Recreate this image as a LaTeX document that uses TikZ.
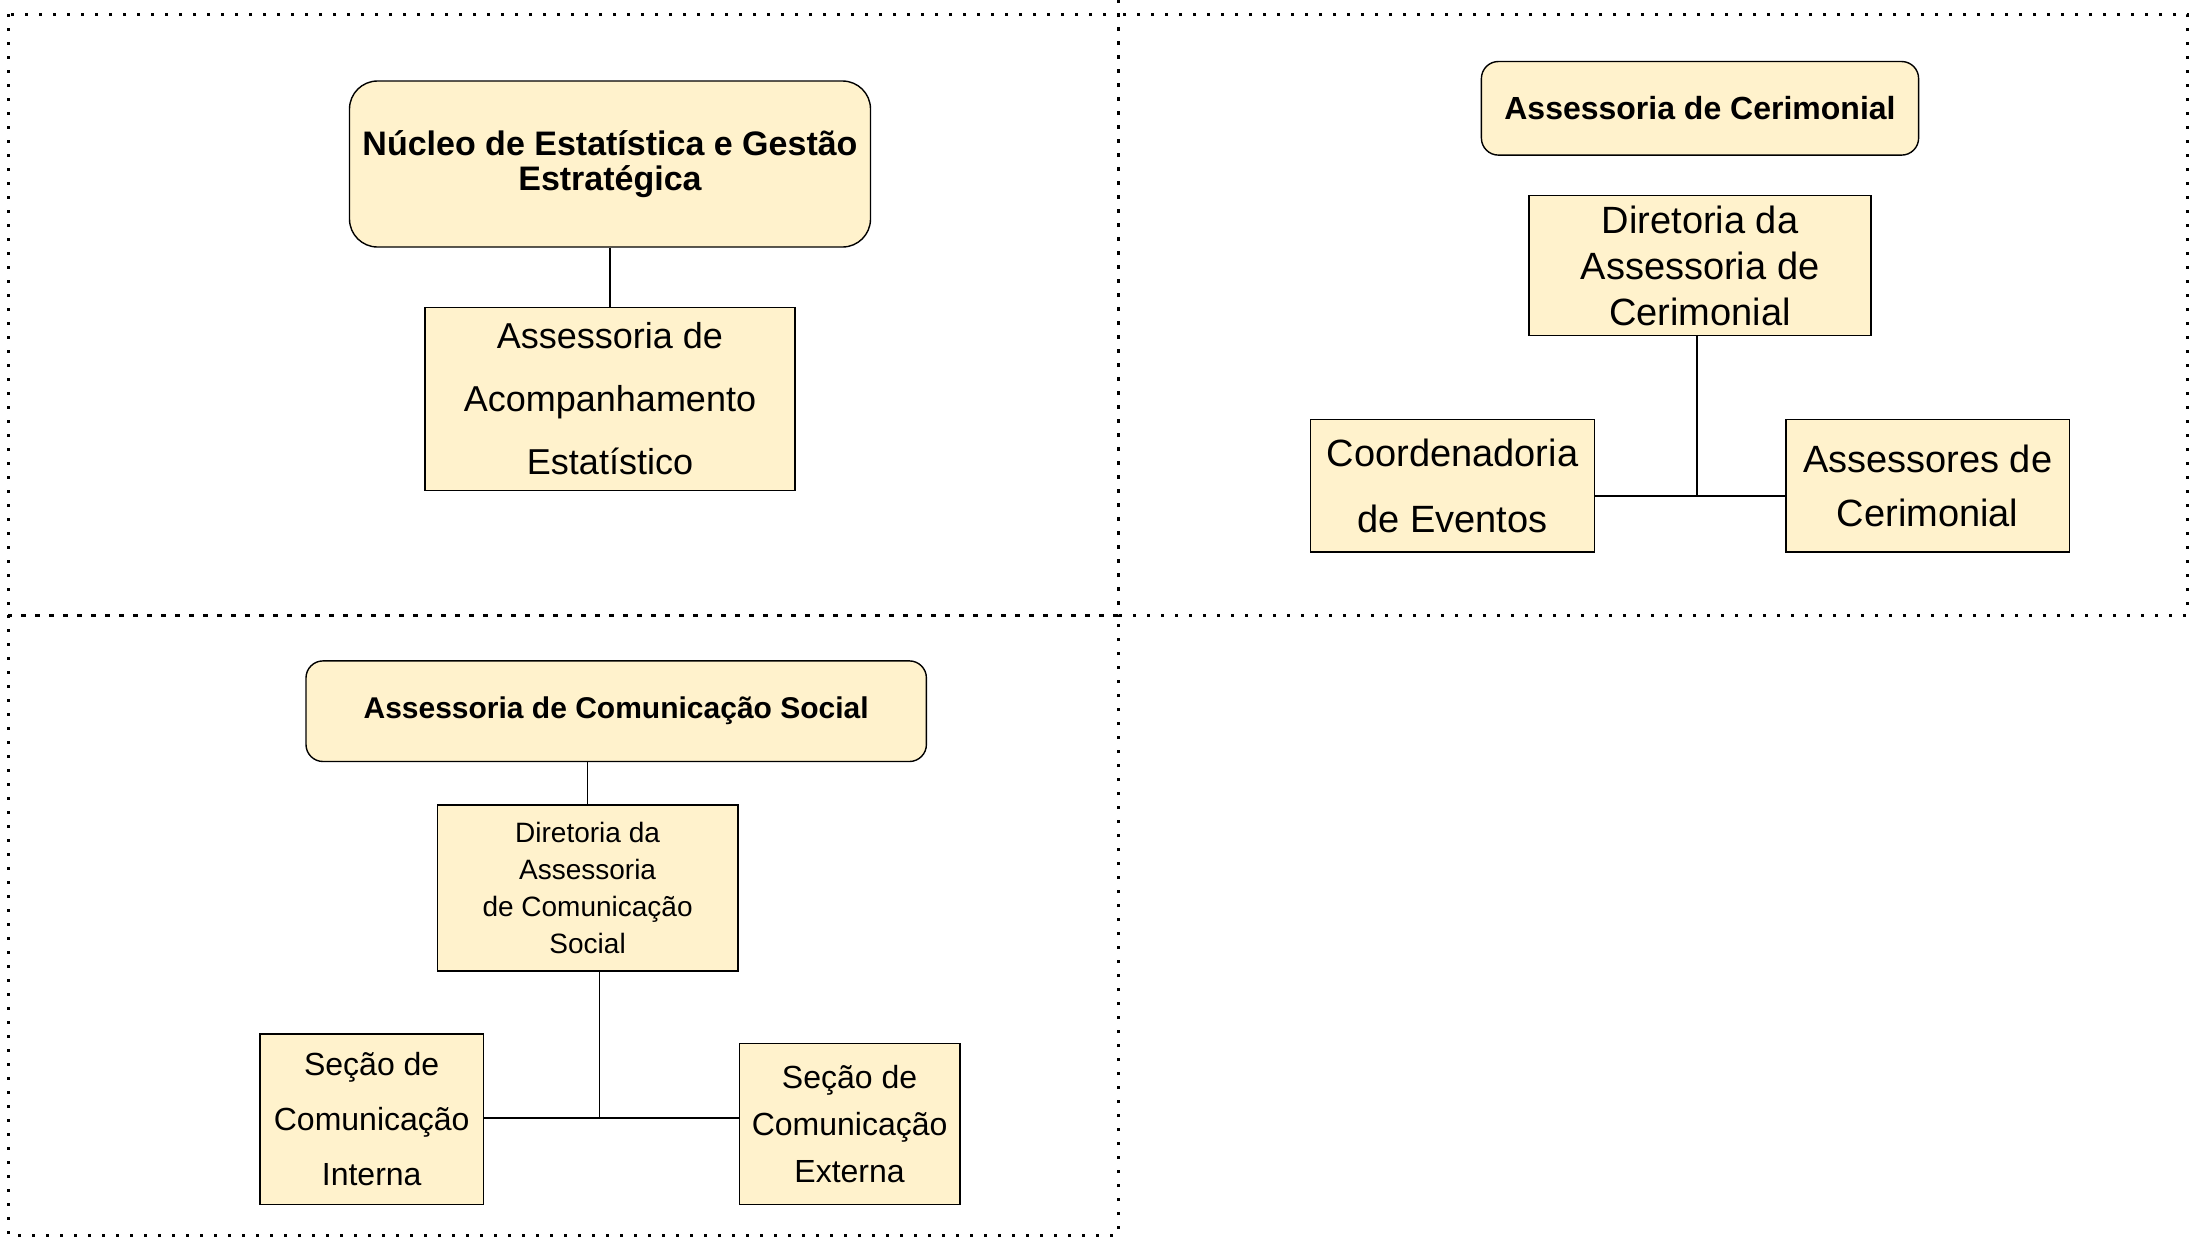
\documentclass[tikz,border=0pt]{standalone}
\usepackage{fontspec}
\setmainfont{Liberation Sans}
\usetikzlibrary{positioning}
\definecolor{boxfill}{HTML}{FFF2CC}

\begin{document}
\begin{tikzpicture}[x=0.5pt, y=-0.5pt, line width=0.7pt,
    head/.style={draw, fill=boxfill, align=center, inner sep=0pt, font=\bfseries},
    unit/.style={draw, fill=boxfill, align=center, inner sep=0pt},
    frame/.style={line width=1.5pt, dash pattern=on 1.5pt off 5.5pt}]
    \useasboundingbox (0,0) rectangle (2191,1239);

    % panels
    \draw[frame] (8,14) rectangle (1118,615);
    \draw[frame] (1118,14) rectangle (2187,615);
    \draw[frame] (8,615) rectangle (1118,1235);
    \draw[frame] (1118,0) -- (1118,14);

    % Nucleo de Estatistica
    \node[head, rounded corners=14pt, minimum width=260.5pt, minimum height=83pt,
        font=\bfseries\fontsize{17}{17.5}\selectfont] (nucleo) at (610,164)
        {N\'ucleo de Estat\'istica e Gest\~ao\\Estrat\'egica};
    \node[unit, minimum width=185pt, minimum height=91.5pt,
        font=\fontsize{18}{31.5}\selectfont] (acomp) [below=29.4pt of nucleo]
        {Assessoria de\\Acompanhamento\\Estat\'istico};
    \draw (nucleo) -- (acomp);

    % Assessoria de Cerimonial
    \node[head, rounded corners=8.5pt, minimum width=218.6pt, minimum height=46.8pt,
        font=\bfseries\fontsize{16}{19}\selectfont] (cerim) at (1700,108.3)
        {Assessoria de Cerimonial};
    \node[unit, minimum width=171pt, minimum height=70pt,
        font=\fontsize{19}{23}\selectfont] (dirCer) [below=19.5pt of cerim]
        {Diretoria da\\Assessoria de\\Cerimonial};
    \node[unit, minimum width=141.8pt, minimum height=66.4pt,
        font=\fontsize{19}{33}\selectfont] (coord) at (1452.5,485.6)
        {Coordenadoria\\de Eventos};
    \node[unit, minimum width=141.8pt, minimum height=66.4pt,
        font=\fontsize{19}{27}\selectfont] (assesCer) at (1927.6,485.6)
        {Assessores de\\Cerimonial};
    \coordinate (jCer) at (1697,496);
    \draw (dirCer.south -| jCer) -- (jCer);
    \draw (coord.east |- jCer) -- (assesCer.west |- jCer);

    % Assessoria de Comunicacao Social
    \node[head, rounded corners=8.5pt, minimum width=310.2pt, minimum height=50.3pt,
        font=\bfseries\fontsize{15}{18}\selectfont] (comSoc) at (616.2,711.2)
        {Assessoria de Comunica\c{c}\~ao Social};
    \node[unit, minimum width=150.2pt, minimum height=83.1pt,
        font=\fontsize{14}{18.4}\selectfont] (dirCom) at (587.6,888)
        {Diretoria da\\Assessoria\\de Comunica\c{c}\~ao\\Social};
    \node[unit, minimum width=111.8pt, minimum height=85.2pt,
        font=\fontsize{16}{27.5}\selectfont] (secInt) at (371.7,1119.2)
        {Se\c{c}\~ao de\\Comunica\c{c}\~ao\\Interna};
    \node[unit, minimum width=110.4pt, minimum height=80.4pt,
        font=\fontsize{16}{23.5}\selectfont] (secExt) at (849.6,1124.1)
        {Se\c{c}\~ao de\\Comunica\c{c}\~ao\\Externa};
    \draw (dirCom.north |- comSoc.south) -- (dirCom.north);
    \coordinate (jCom) at (599.4,1117.8);
    \draw (dirCom.south -| jCom) -- (jCom);
    \draw (secInt.east |- jCom) -- (secExt.west |- jCom);
\end{tikzpicture}
\end{document}
